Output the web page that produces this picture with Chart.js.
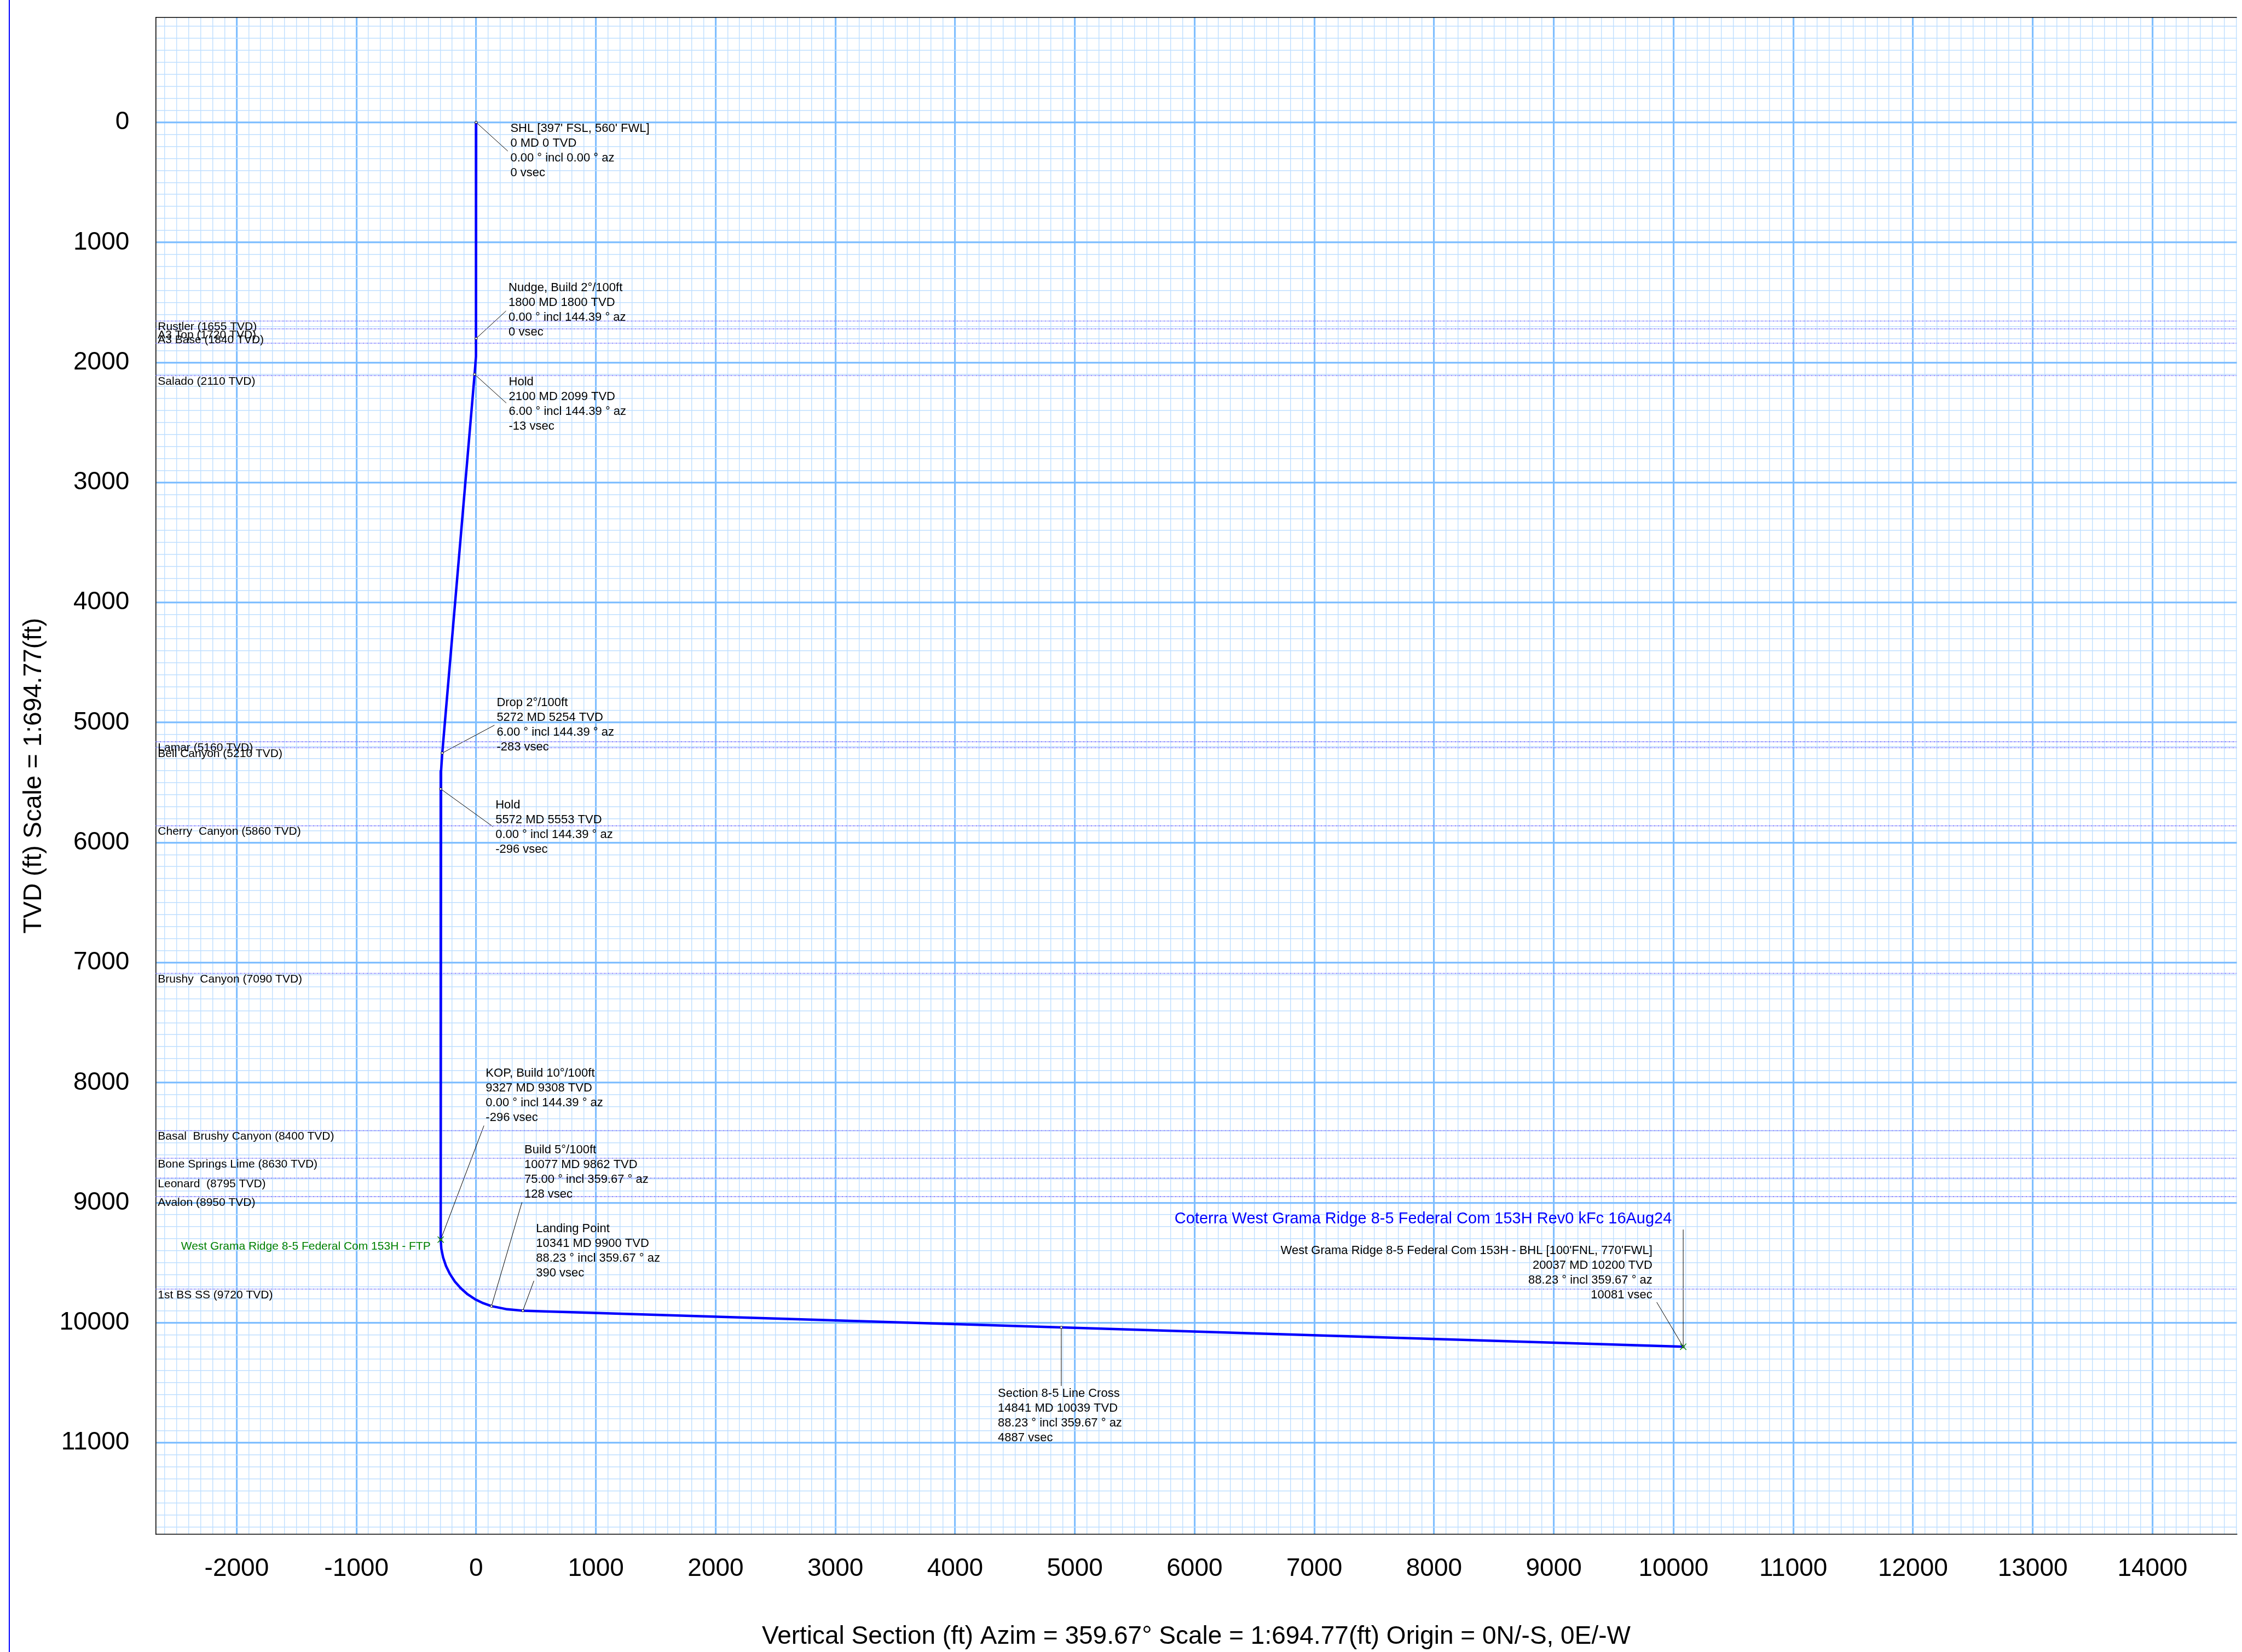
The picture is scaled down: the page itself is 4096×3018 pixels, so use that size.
<!DOCTYPE html>
<html lang="en">
<head>
<meta charset="UTF-8">
<title>Vertical Section - West Grama Ridge 8-5 Federal Com 153H</title>
<script src="https://cdn.jsdelivr.net/npm/chart.js"></script>
<style>
  html, body { margin: 0; padding: 0; background: #fff; }
  #wrap { position: relative; width: 4096px; height: 3018px; }
</style>
</head>
<body>
<div id="wrap"><canvas id="vsChart"></canvas></div>
<script>
// wellpath (vertical section ft / TVD ft)
const pathVsec = [0, 0, -3, -13, -283, -293, -296, -296, -291, -276, -252, -219, -178, -128, -72, -10, 58, 128, 258, 390, 4887, 10081];
const pathTvd  = [0, 1800, 1950, 2099, 5254, 5404, 5553, 9308, 9383, 9456, 9527, 9594, 9657, 9713, 9763, 9804, 9837, 9862, 9888, 9900, 10039, 10200];

// survey stations with callouts
const stationNames = ['SHL', 'Nudge', 'Hold1', 'Drop', 'Hold2', 'KOP', 'Build', 'Landing', 'Cross', 'BHL'];
const stationVsec  = [0, 0, -13, -283, -296, -296, 128, 390, 4887, 10081];
const stationTvd   = [0, 1800, 2099, 5254, 5553, 9308, 9862, 9900, 10039, 10200];
const stationText  = [
  ["SHL [397' FSL, 560' FWL]", '0 MD 0 TVD', '0.00 ° incl 0.00 ° az', '0 vsec'],
  ['Nudge, Build 2°/100ft', '1800 MD 1800 TVD', '0.00 ° incl 144.39 ° az', '0 vsec'],
  ['Hold', '2100 MD 2099 TVD', '6.00 ° incl 144.39 ° az', '-13 vsec'],
  ['Drop 2°/100ft', '5272 MD 5254 TVD', '6.00 ° incl 144.39 ° az', '-283 vsec'],
  ['Hold', '5572 MD 5553 TVD', '0.00 ° incl 144.39 ° az', '-296 vsec'],
  ['KOP, Build 10°/100ft', '9327 MD 9308 TVD', '0.00 ° incl 144.39 ° az', '-296 vsec'],
  ['Build 5°/100ft', '10077 MD 9862 TVD', '75.00 ° incl 359.67 ° az', '128 vsec'],
  ['Landing Point', '10341 MD 9900 TVD', '88.23 ° incl 359.67 ° az', '390 vsec'],
  ['Section 8-5 Line Cross', '14841 MD 10039 TVD', '88.23 ° incl 359.67 ° az', '4887 vsec'],
  ["West Grama Ridge 8-5 Federal Com 153H - BHL [100'FNL, 770'FWL]", '20037 MD 10200 TVD', '88.23 ° incl 359.67 ° az', '10081 vsec']
];

// targets (green crosses)
const targetNames = ['West Grama Ridge 8-5 Federal Com 153H - FTP', 'BHL'];
const targetVsec  = [-296, 10081];
const targetTvd   = [9308, 10200];

// formation tops
const formationNames = ['Rustler (1655 TVD)', 'A3 Top (1720 TVD)', 'A3 Base (1840 TVD)', 'Salado (2110 TVD)',
  'Lamar (5160 TVD)', 'Bell Canyon (5210 TVD)', 'Cherry  Canyon (5860 TVD)', 'Brushy  Canyon (7090 TVD)',
  'Basal  Brushy Canyon (8400 TVD)', 'Bone Springs Lime (8630 TVD)', 'Leonard  (8795 TVD)', 'Avalon (8950 TVD)',
  '1st BS SS (9720 TVD)'];
const formationTvd = [1655, 1720, 1840, 2110, 5160, 5210, 5860, 7090, 8400, 8630, 8795, 8950, 9720];

const xTickLabels = [-2000, -1000, 0, 1000, 2000, 3000, 4000, 5000, 6000, 7000, 8000, 9000, 10000, 11000, 12000, 13000, 14000];
const yTickLabels = [0, 1000, 2000, 3000, 4000, 5000, 6000, 7000, 8000, 9000, 10000, 11000];

const planTitle = 'Coterra West Grama Ridge 8-5 Federal Com 153H Rev0 kFc 16Aug24';
const xTitle = 'Vertical Section (ft) Azim = 359.67° Scale = 1:694.77(ft) Origin = 0N/-S, 0E/-W';
const yTitle = 'TVD (ft) Scale = 1:694.77(ft)';

const X_MIN = -2677, X_MAX = 14705, Y_MIN = -875, Y_MAX = 11762;

// callout placement in px, relative to the station point
const calloutLayout = {
  SHL:     { tx: 62.5,  ty: 11,     lx: 57.9, ly: 52.5 },
  Nudge:   { tx: 59.2,  ty: -92.1,  lx: 54.6, ly: -50.2 },
  Hold1:   { tx: 62.5,  ty: 13.7,   lx: 57.9, ly: 52.4 },
  Drop:    { tx: 99.4,  ty: -92,    lx: 95.4, ly: -50.9 },
  Hold2:   { tx: 100,   ty: 29.4,   lx: 95.4, ly: 68.9 },
  KOP:     { tx: 82.2,  ty: -304,   lx: 79,   ly: -208.3 },
  Build:   { tx: 60.1,  ty: -285.7, lx: 55.7, ly: -189.7 },
  Landing: { tx: 24,    ty: -149.6, lx: 20.2, ly: -54.6 },
  Cross:   { tx: -115.8, ty: 120.9, lx: 0,    ly: 107.1 },
  BHL:     { tx: -56.3, ty: -175.7, lx: -48.4, ly: -81.3, align: 'right' }
};
// formation label sits just under its line; A3 Base label is pushed up in the original
const formationLabelShift = { 'A3 Base (1840 TVD)': -5.8 };
const LINE_H = 27;
const FONT = '"Liberation Sans", Arial, sans-serif';

Chart.defaults.font.family = FONT;
Chart.defaults.color = '#000';

const isMajor = v => Math.round(v) % 1000 === 0;

const calloutPlugin = {
  id: 'callouts',
  beforeDatasetsDraw(chart) {
    const { ctx, scales: { x, y } } = chart;
    ctx.save();
    ctx.strokeStyle = '#000';
    ctx.lineWidth = 1;
    stationNames.forEach((name, i) => {
      const L = calloutLayout[name];
      const px = x.getPixelForValue(stationVsec[i]);
      const py = y.getPixelForValue(stationTvd[i]);
      ctx.beginPath();
      ctx.moveTo(px, py);
      ctx.lineTo(px + L.lx, py + L.ly);
      ctx.stroke();
    });
    // plan title leader down to BHL
    const bx = x.getPixelForValue(targetVsec[1]);
    const by = y.getPixelForValue(targetTvd[1]);
    ctx.beginPath();
    ctx.moveTo(bx, by);
    ctx.lineTo(bx, by - 214);
    ctx.stroke();
    ctx.restore();
  },
  afterDatasetsDraw(chart) {
    const { ctx, chartArea: a, scales: { x, y } } = chart;
    ctx.save();
    ctx.textBaseline = 'middle';

    // formation labels
    ctx.font = '21px ' + FONT;
    ctx.fillStyle = '#000';
    ctx.textAlign = 'left';
    formationNames.forEach((n, i) => {
      const shift = formationLabelShift[n] !== undefined ? formationLabelShift[n] : 11;
      ctx.fillText(n, a.left + 4, y.getPixelForValue(formationTvd[i]) + shift);
    });

    // station callouts
    ctx.font = '22px ' + FONT;
    stationNames.forEach((name, i) => {
      const L = calloutLayout[name];
      const px = x.getPixelForValue(stationVsec[i]);
      const py = y.getPixelForValue(stationTvd[i]);
      ctx.textAlign = L.align || 'left';
      stationText[i].forEach((line, k) => ctx.fillText(line, px + L.tx, py + L.ty + k * LINE_H));
    });

    // FTP label
    ctx.fillStyle = '#008000';
    ctx.font = '21px ' + FONT;
    ctx.textAlign = 'right';
    ctx.fillText(targetNames[0], x.getPixelForValue(targetVsec[0]) - 18.5, y.getPixelForValue(targetTvd[0]) + 13);

    // plan title
    ctx.fillStyle = '#0000FF';
    ctx.font = '29px ' + FONT;
    ctx.textAlign = 'center';
    ctx.fillText(planTitle, x.getPixelForValue(targetVsec[1]) - 475, y.getPixelForValue(targetTvd[1]) - 233);
    ctx.restore();
  },
  afterDraw(chart) {
    const { ctx, chartArea: a } = chart;
    ctx.save();
    ctx.strokeStyle = '#000';
    ctx.lineWidth = 1.6;
    ctx.beginPath();
    ctx.moveTo(a.left, a.top);
    ctx.lineTo(a.right, a.top);
    ctx.stroke();
    // page frame line on the left
    ctx.strokeStyle = '#0000FF';
    ctx.lineWidth = 2;
    ctx.beginPath();
    ctx.moveTo(17, 0);
    ctx.lineTo(17, chart.height);
    ctx.stroke();
    ctx.restore();
  }
};

const formationSets = formationNames.map((n, i) => ({
  label: n,
  data: [{ x: X_MIN, y: formationTvd[i] }, { x: X_MAX, y: formationTvd[i] }],
  showLine: true,
  borderColor: '#8080FF',
  borderWidth: 1.6,
  borderDash: [3.4, 1.2, 1.2, 1.2],
  pointRadius: 0,
  order: 3
}));

const gridOpts = {
  drawTicks: false,
  color: ctx => (ctx.tick && isMajor(ctx.tick.value)) ? '#80BFFF' : '#BFDFFF',
  lineWidth: ctx => (ctx.tick && isMajor(ctx.tick.value)) ? 3.2 : 1.4
};

new Chart(document.getElementById('vsChart'), {
  type: 'scatter',
  data: {
    datasets: [
      {
        label: 'Targets',
        data: targetVsec.map((v, i) => ({ x: v, y: targetTvd[i] })),
        pointStyle: 'crossRot',
        pointRadius: 8,
        borderColor: '#008000',
        borderWidth: 1.4,
        order: 0
      },
      {
        label: 'Stations',
        data: stationVsec.map((v, i) => ({ x: v, y: stationTvd[i] })),
        pointStyle: 'circle',
        pointRadius: 2.2,
        backgroundColor: '#fff',
        borderColor: '#000',
        borderWidth: 1,
        order: 1
      },
      {
        label: 'Wellpath',
        data: pathVsec.map((v, i) => ({ x: v, y: pathTvd[i] })),
        showLine: true,
        borderColor: '#0000FF',
        borderWidth: 4.5,
        borderJoinStyle: 'round',
        borderCapStyle: 'round',
        pointRadius: 0,
        tension: 0,
        order: 2
      },
      ...formationSets
    ]
  },
  options: {
    responsive: true,
    maintainAspectRatio: false,
    animation: false,
    devicePixelRatio: 1,
    layout: { padding: { top: 31.7, left: 0, right: 0, bottom: 0 } },
    plugins: { legend: { display: false }, tooltip: { enabled: false } },
    scales: {
      x: {
        type: 'linear',
        position: 'bottom',
        min: X_MIN,
        max: X_MAX,
        ticks: {
          stepSize: 100,
          autoSkip: false,
          includeBounds: false,
          maxRotation: 0,
          minRotation: 0,
          padding: 36,
          color: '#000',
          font: { size: 46 },
          callback: v => xTickLabels.includes(Math.round(v)) ? String(Math.round(v)) : ''
        },
        grid: gridOpts,
        border: { display: true, color: '#000', width: 1.6 },
        title: { display: true, text: xTitle, color: '#000', font: { size: 46 }, padding: { top: 0, bottom: 0 } },
        afterFit: s => { s.height = 215.2; s.paddingLeft = 0; s.paddingRight = 0; }
      },
      y: {
        type: 'linear',
        reverse: true,
        min: Y_MIN,
        max: Y_MAX,
        ticks: {
          stepSize: 100,
          autoSkip: false,
          includeBounds: false,
          padding: 48,
          color: '#000',
          font: { size: 46 },
          callback: v => yTickLabels.includes(Math.round(v)) ? String(Math.round(v)) : ''
        },
        grid: gridOpts,
        border: { display: true, color: '#000', width: 1.6 },
        title: { display: true, text: yTitle, color: '#000', font: { size: 46 }, padding: { top: 35, bottom: 0 } },
        afterFit: s => { s.width = 284.3; s.paddingTop = 0; s.paddingBottom = 0; }
      }
    }
  },
  plugins: [calloutPlugin]
});
</script>
</body>
</html>
